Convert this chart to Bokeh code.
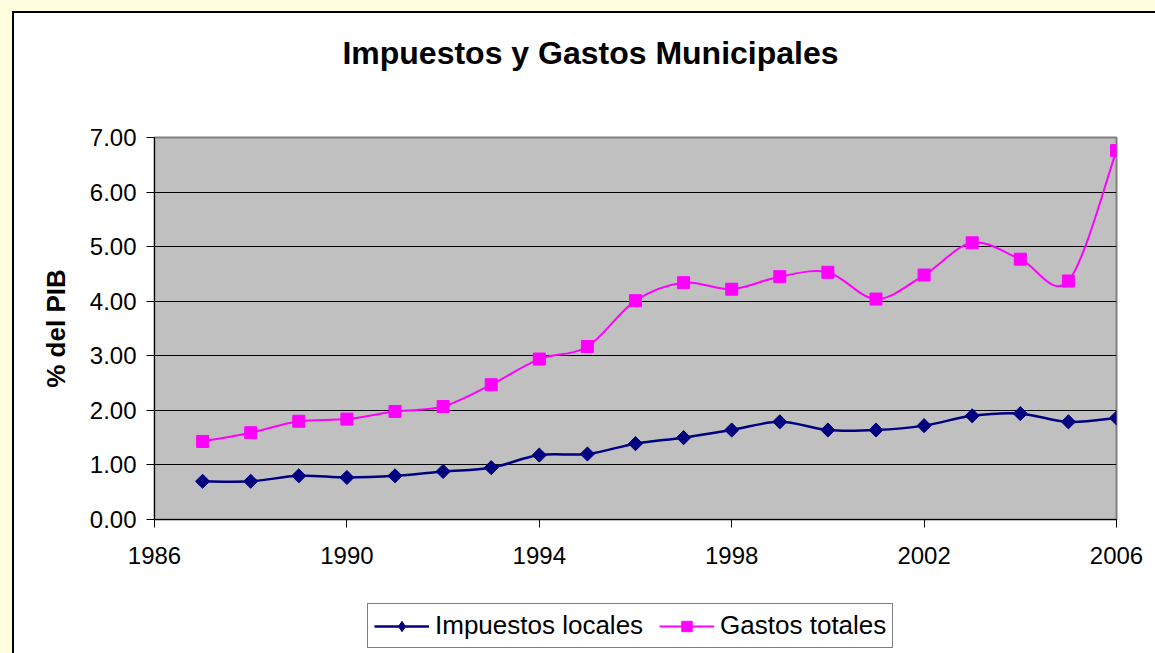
import numpy as np
from bokeh.plotting import figure
from bokeh.layouts import column
from bokeh.models import (ColumnDataSource, FixedTicker, NumeralTickFormatter,
                          Legend, LegendItem, Label)
from bokeh.embed import file_html
from bokeh.resources import INLINE

# ---- data ----
years = [1987, 1988, 1989, 1990, 1991, 1992, 1993, 1994, 1995, 1996,
         1997, 1998, 1999, 2000, 2001, 2002, 2003, 2004, 2005, 2006]
impuestos_locales = [0.70, 0.70, 0.80, 0.77, 0.80, 0.88, 0.95, 1.18, 1.20, 1.39,
                     1.50, 1.64, 1.79, 1.64, 1.64, 1.72, 1.90, 1.94, 1.79, 1.86]
gastos_totales = [1.43, 1.59, 1.80, 1.84, 1.98, 2.07, 2.47, 2.94, 3.17, 4.01,
                  4.34, 4.22, 4.45, 4.53, 4.04, 4.48, 5.07, 4.77, 4.37, 6.76]
x_ticks = [1986, 1990, 1994, 1998, 2002, 2006]
y_ticks = [0, 1, 2, 3, 4, 5, 6, 7]
title_text = "Impuestos y Gastos Municipales"
y_label = "% del PIB"
series_names = ["Impuestos locales", "Gastos totales"]

FONT = "Liberation Sans"
NAVY = "#000080"
MAGENTA = "#FF00FF"
W = 1155
FRAME_L, FRAME_W, FRAME_R = 154, 962, 39


def smooth_segments(xs, ys):
    """Bezier segments between consecutive data points (Excel-like smoothing)."""
    xs = np.asarray(xs, dtype=float)
    ys = np.asarray(ys, dtype=float)
    n = len(xs)
    d = dict(x0=[], y0=[], x1=[], y1=[], cx0=[], cy0=[], cx1=[], cy1=[])
    for i in range(n - 1):
        a = i - 1 if i > 0 else i
        b = i + 2 if i + 2 < n else i + 1
        d["x0"].append(xs[i]); d["y0"].append(ys[i])
        d["x1"].append(xs[i + 1]); d["y1"].append(ys[i + 1])
        d["cx0"].append(xs[i] + (xs[i + 1] - xs[a]) / 6.0)
        d["cy0"].append(ys[i] + (ys[i + 1] - ys[a]) / 6.0)
        d["cx1"].append(xs[i + 1] - (xs[b] - xs[i]) / 6.0)
        d["cy1"].append(ys[i + 1] - (ys[b] - ys[i]) / 6.0)
    return ColumnDataSource(d)


def blank_fig(h):
    # frame is aligned with the main chart's frame inside the column
    f = figure(width=W, height=h, output_backend="svg", toolbar_location=None,
               x_range=(FRAME_L, FRAME_L + FRAME_W), y_range=(0, h),
               x_axis_type=None, y_axis_type=None,
               min_border_left=FRAME_L, min_border_right=FRAME_R,
               min_border_top=0, min_border_bottom=0)
    f.outline_line_color = None
    f.background_fill_alpha = 0
    f.border_fill_alpha = 0
    f.xgrid.grid_line_color = None
    f.ygrid.grid_line_color = None
    return f


# ---- title strip ----
TITLE_H = 80
pt = blank_fig(TITLE_H)
pt.add_layout(Label(x=590, y=TITLE_H - 52, text=title_text, text_align="center",
                    text_baseline="alphabetic", text_font=FONT, text_font_size="32px",
                    text_font_style="bold", text_color="black"))

# ---- main chart ----
p = figure(frame_width=FRAME_W, frame_height=382, output_backend="svg",
           toolbar_location=None, x_range=(1986, 2006), y_range=(0, 7),
           min_border_left=FRAME_L, min_border_right=FRAME_R,
           min_border_top=137 - TITLE_H, min_border_bottom=76)
p.border_fill_alpha = 0
p.background_fill_color = "#C0C0C0"
p.outline_line_color = "#808080"
p.outline_line_width = 2

p.xgrid.grid_line_color = None
p.ygrid.grid_line_color = "black"
p.ygrid.grid_line_width = 1
p.ygrid.ticker = FixedTicker(ticks=y_ticks)

p.xaxis.ticker = FixedTicker(ticks=x_ticks)
p.yaxis.ticker = FixedTicker(ticks=y_ticks)
p.yaxis.formatter = NumeralTickFormatter(format="0.00")
for ax in (p.xaxis[0], p.yaxis[0]):
    ax.axis_line_color = "black"
    ax.axis_line_width = 1
    ax.major_tick_line_color = "black"
    ax.major_tick_out = 8
    ax.major_tick_in = 0
    ax.minor_tick_line_color = None
    ax.major_label_text_font = FONT
    ax.major_label_text_font_size = "24px"
    ax.major_label_text_color = "black"
p.xaxis.major_label_standoff = 19
p.yaxis.major_label_standoff = 10
p.yaxis.axis_label = y_label
p.yaxis.axis_label_text_font = FONT
p.yaxis.axis_label_text_font_size = "26px"
p.yaxis.axis_label_text_font_style = "bold"
p.yaxis.axis_label_text_color = "black"
p.yaxis.axis_label_standoff = 16

src_i = smooth_segments(years, impuestos_locales)
src_g = smooth_segments(years, gastos_totales)
p.bezier(x0="x0", y0="y0", x1="x1", y1="y1", cx0="cx0", cy0="cy0",
         cx1="cx1", cy1="cy1", source=src_i, line_color=NAVY, line_width=2.5)
p.scatter(years, impuestos_locales, marker="square", angle=np.pi / 4,
          size=10, fill_color=NAVY, line_color=NAVY)
p.bezier(x0="x0", y0="y0", x1="x1", y1="y1", cx0="cx0", cy0="cy0",
         cx1="cx1", cy1="cy1", source=src_g, line_color=MAGENTA, line_width=2)
p.scatter(years, gastos_totales, marker="square", size=12,
          fill_color=MAGENTA, line_color=MAGENTA)

# ---- legend strip: legend renderers use the same series (outside this strip's view) ----
LEG_H = 653 - 137 - 382 - 76
pl = blank_fig(LEG_H)
lb_i = pl.bezier(x0="x0", y0="y0", x1="x1", y1="y1", cx0="cx0", cy0="cy0",
                 cx1="cx1", cy1="cy1", source=smooth_segments(years, impuestos_locales),
                 line_color=NAVY, line_width=2.5)
lm_i = pl.scatter(years, impuestos_locales, marker="diamond",
                  fill_color=NAVY, line_color=NAVY)
lb_g = pl.bezier(x0="x0", y0="y0", x1="x1", y1="y1", cx0="cx0", cy0="cy0",
                 cx1="cx1", cy1="cy1", source=smooth_segments(years, gastos_totales),
                 line_color=MAGENTA, line_width=2)
lm_g = pl.scatter(years, gastos_totales, marker="square",
                  fill_color=MAGENTA, line_color=MAGENTA)
legend = Legend(items=[LegendItem(label=series_names[0], renderers=[lb_i, lm_i]),
                       LegendItem(label=series_names[1], renderers=[lb_g, lm_g])],
                location=(367 - FRAME_L, 5), orientation="horizontal",
                label_text_font=FONT, label_text_font_size="26px",
                label_text_color="black", glyph_width=55, glyph_height=26,
                label_height=28, label_standoff=6, spacing=16, padding=6, margin=0,
                border_line_color="black", border_line_width=1,
                background_fill_color="white", background_fill_alpha=1)
pl.add_layout(legend, "center")

layout = column(pt, p, pl, spacing=0)
layout.styles = {"background-color": "white",
                 "box-shadow": "inset 12px 11px 0 0 #FFFFE0, inset 14px 13px 0 0 black"}

open("out.html", "w").write(file_html(layout, INLINE))
